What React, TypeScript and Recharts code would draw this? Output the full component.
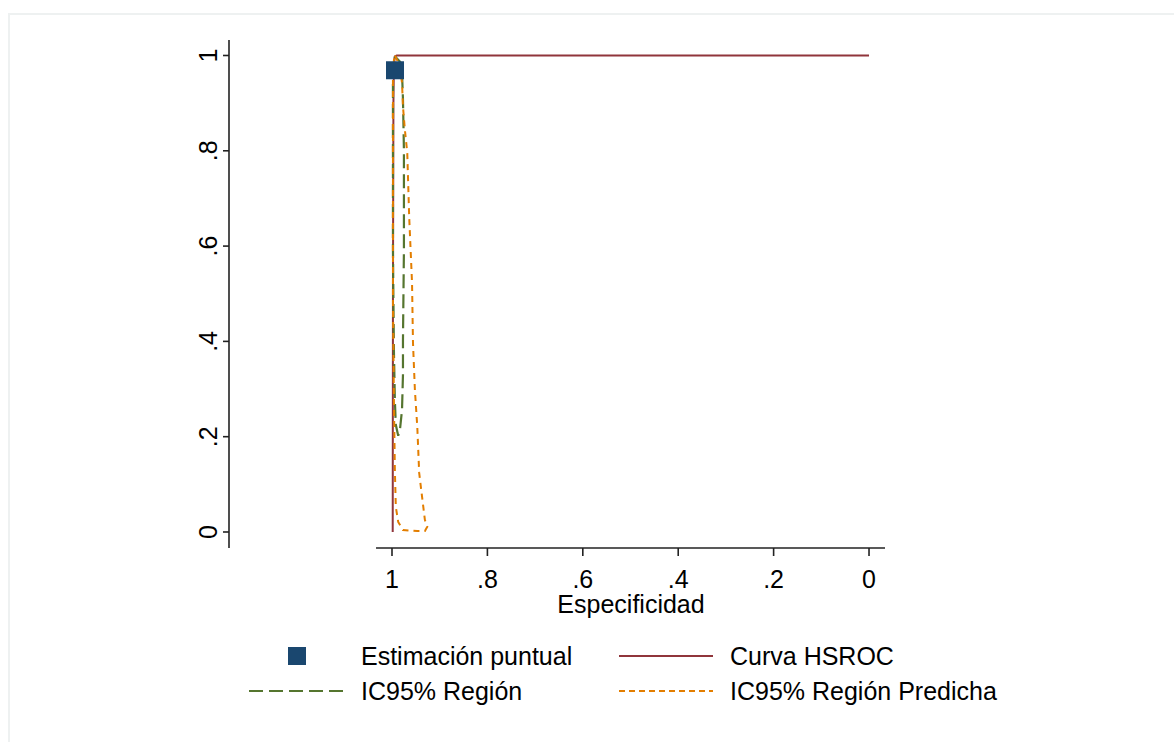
import React from 'react';
import {
  ComposedChart,
  Line,
  Scatter,
  XAxis,
  YAxis,
  ReferenceLine,
  Legend,
} from 'recharts';

// valores (especificidad, sensibilidad)
const puntoEspec = [0.9937];
const puntoSens = [0.969];

const hsrocEspec = [0.9985, 0.998, 0.997, 0.996, 0.994, 0.99, 0.95, 0.8, 0.5, 0.2, 0];
const hsrocSens = [0, 0.5, 0.9, 0.98, 0.998, 1, 1, 1, 1, 1, 1];

const regionEspec = [
  0.9937, 0.983, 0.979, 0.977, 0.975, 0.975, 0.977, 0.977, 0.979, 0.983, 0.987,
  0.992, 0.994, 0.996, 0.998, 0.998, 0.998, 0.996, 0.9937,
];
const regionSens = [
  0.998, 0.987, 0.964, 0.908, 0.802, 0.592, 0.403, 0.33, 0.256, 0.218, 0.202,
  0.225, 0.277, 0.382, 0.592, 0.8, 0.95, 0.99, 0.998,
];

const prediccionEspec = [
  0.9937, 0.985, 0.979, 0.977, 0.973, 0.968, 0.964, 0.958, 0.956, 0.952, 0.947,
  0.943, 0.937, 0.931, 0.926, 0.931, 0.947, 0.977, 0.987, 0.992, 0.994, 0.996,
  0.998, 0.998, 0.998, 0.996, 0.9937,
];
const prediccionSens = [
  1.0, 0.981, 0.943, 0.893, 0.844, 0.796, 0.662, 0.523, 0.397, 0.298, 0.221,
  0.124, 0.074, 0.025, 0.011, 0.002, 0.002, 0.004, 0.021, 0.053, 0.13, 0.277,
  0.487, 0.8, 0.95, 0.99, 1.0,
];

const ticks = [0, 0.2, 0.4, 0.6, 0.8, 1];

const zip = (esp: number[], sens: number[]) => esp.map((e, i) => ({ spec: e, sens: sens[i] }));

const punto = zip(puntoEspec, puntoSens);
const hsroc = zip(hsrocEspec, hsrocSens);
const region = zip(regionEspec, regionSens);
const prediccion = zip(prediccionEspec, prediccionSens);

const NAVY = '#1a476f';
const MAROON = '#90353b';
const GREEN = '#55752f';
const ORANGE = '#e37e00';
const FONT = '"Liberation Sans", Arial, sans-serif';
const FS = 25;

// dominios extendidos como en Stata (el eje sobresale del área de datos)
const X_DOMAIN: [number, number] = [-0.0335, 1.3417];
const Y_DOMAIN: [number, number] = [-0.0336, 1.0325];
const X_AXIS_START = 1.0335;

const fmt = (v: number) => (v === 0 || v === 1 ? String(v) : String(v).replace(/^0/, ''));

const YTick = (props: any) => {
  const { x, y, payload } = props;
  return (
    <text
      x={x}
      y={y}
      transform={`rotate(-90, ${x}, ${y})`}
      textAnchor="middle"
      dominantBaseline="central"
      fontSize={FS}
      fontFamily={FONT}
      fill="#000"
    >
      {fmt(payload.value)}
    </text>
  );
};

const Cuadrado = (props: any) => {
  const { cx, cy } = props;
  return <rect x={cx - 9} y={cy - 9} width={18} height={18} fill={NAVY} />;
};

const leyenda = [
  { name: 'Estimación puntual', kind: 'square', color: NAVY, col: 0, row: 0 },
  { name: 'Curva HSROC', kind: 'line', color: MAROON, dash: undefined, col: 1, row: 0 },
  { name: 'IC95% Región', kind: 'line', color: GREEN, dash: '14 6', col: 0, row: 1 },
  { name: 'IC95% Región Predicha', kind: 'line', color: ORANGE, dash: '6 4', col: 1, row: 1 },
];

const LegendContent = () => {
  const keyX = [249, 619];
  const textX = [361, 730];
  const rowY = [26, 61];
  return (
    <svg width={1174} height={90}>
      {leyenda.map((it) => {
        const kx = keyX[it.col];
        const cy = rowY[it.row];
        return (
          <g key={it.name}>
            {it.kind === 'square' ? (
              <rect x={kx + 39} y={cy - 9} width={18} height={18} fill={it.color} />
            ) : (
              <line
                x1={kx}
                x2={kx + 94}
                y1={cy}
                y2={cy}
                stroke={it.color}
                strokeWidth={2}
                strokeDasharray={it.dash}
              />
            )}
            <text x={textX[it.col]} y={cy + 9} fontSize={FS} fontFamily={FONT} fill="#000">
              {it.name}
            </text>
          </g>
        );
      })}
    </svg>
  );
};

export default function App() {
  return (
    <div style={{ position: 'absolute', left: 0, top: 0, width: 1174, height: 742, background: '#fff' }}>
      <div
        style={{
          position: 'absolute',
          left: 8,
          top: 13,
          right: 0,
          bottom: 0,
          borderTop: '2px solid #eef1f1',
          borderLeft: '2px solid #eef1f1',
        }}
      />
      <div style={{ position: 'absolute', left: 0, top: 0 }}>
        <ComposedChart
          width={1174}
          height={742}
          margin={{ top: 40, right: 289, bottom: 134, left: 169 }}
          style={{ fontFamily: FONT }}
        >
          <XAxis
            type="number"
            dataKey="spec"
            domain={X_DOMAIN}
            reversed
            allowDataOverflow
            ticks={ticks}
            tickFormatter={fmt}
            axisLine={false}
            tickSize={8}
            tickMargin={14}
            tickLine={{ stroke: '#222', strokeWidth: 1.6 }}
            tick={{ fontSize: FS, fill: '#000', fontFamily: FONT }}
            height={60}
            label={{
              value: 'Especificidad',
              position: 'insideBottom',
              offset: -5,
              dx: 74,
              fontSize: FS,
              fill: '#000',
              fontFamily: FONT,
            }}
          />
          <YAxis
            type="number"
            dataKey="sens"
            domain={Y_DOMAIN}
            allowDataOverflow
            ticks={ticks}
            width={60}
            tickSize={6}
            tickMargin={15}
            axisLine={{ stroke: '#222', strokeWidth: 1.6 }}
            tickLine={{ stroke: '#222', strokeWidth: 1.6 }}
            tick={<YTick />}
          />
          <ReferenceLine
            segment={[
              { x: X_AXIS_START, y: Y_DOMAIN[0] },
              { x: X_DOMAIN[0], y: Y_DOMAIN[0] },
            ]}
            stroke="#222"
            strokeWidth={1.6}
            ifOverflow="visible"
          />
          <Scatter data={punto} dataKey="sens" shape={<Cuadrado />} isAnimationActive={false} />
          <Line
            data={hsroc}
            dataKey="sens"
            type="linear"
            stroke={MAROON}
            strokeWidth={2}
            dot={false}
            isAnimationActive={false}
          />
          <Line
            data={region}
            dataKey="sens"
            type="linear"
            stroke={GREEN}
            strokeWidth={2.2}
            strokeDasharray="14 6"
            dot={false}
            isAnimationActive={false}
          />
          <Line
            data={prediccion}
            dataKey="sens"
            type="linear"
            stroke={ORANGE}
            strokeWidth={2}
            strokeDasharray="6 5"
            dot={false}
            isAnimationActive={false}
          />
          <Legend
            layout="horizontal"
            verticalAlign="middle"
            align="center"
            wrapperStyle={{ left: 0, top: 630, width: 1174, height: 90 }}
            content={<LegendContent />}
          />
        </ComposedChart>
      </div>
    </div>
  );
}
